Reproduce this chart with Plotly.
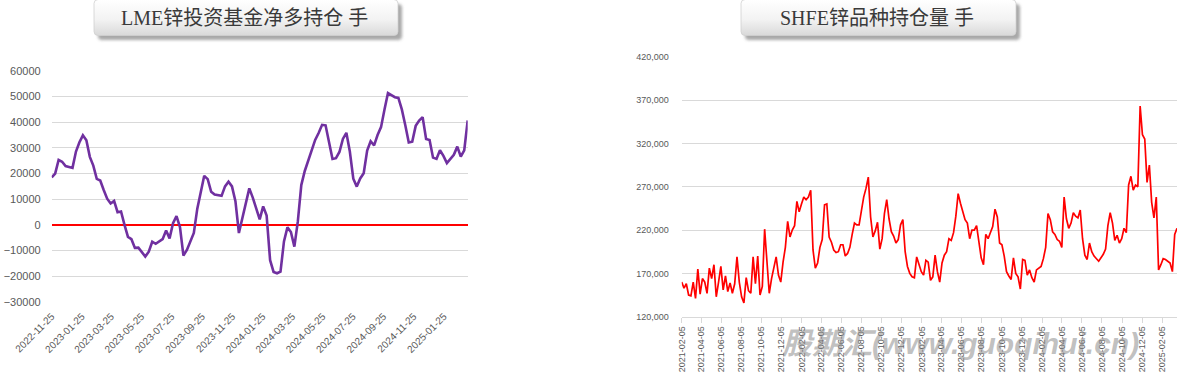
import base64
import pandas as pd
import plotly.graph_objects as go

W, H = 1179, 376

# ---------------- data: LME zinc investment fund net long (weekly) ----------------
lme_start = "2022-11-25"
lme_net_long = [
    18500, 20000, 25300, 24600, 22900, 22400, 22200, 28600, 32200, 34900,
    33000, 26500, 23100, 17900, 17300, 13600, 10200, 8300, 9300, 4900,
    5200, 0, -4700, -5600, -9000, -8900, -10800, -12400, -10500, -6600,
    -7400, -6500, -5600, -2200, -5300, 600, 3400, -900, -12000, -9800,
    -6800, -3200, 6300, 13500, 19100, 17800, 12900, 11800, 11600, 11300,
    15000, 16800, 15000, 9200, -3200, 2400, 8800, 14200, 10600, 6300,
    2100, 7200, 3600, -13800, -18400, -18900, -18300, -6500, -1000, -2800,
    -8500, 1300, 15500, 21000, 25200, 29700, 33100, 35800, 39000, 38800,
    32500, 25700, 26000, 28400, 33500, 35900, 28600, 18000, 14900, 18100,
    20100, 29000, 32600, 31000, 35000, 38100, 45000, 51400, 50600, 49800,
    49500, 45000, 38800, 32100, 32400, 38600, 40700, 42000, 33500, 33100,
    26200, 25700, 29100, 26900, 24100, 25600, 27300, 30500, 26600, 29000,
    40700,
]
lme_dates = pd.date_range(lme_start, periods=len(lme_net_long), freq="7D")

# ---------------- data: SHFE zinc open interest (weekly samples) ----------------
shfe_start = "2021-02-05"
shfe_oi_k = [
    160, 153, 158, 145, 144, 160, 141, 175, 146, 164,
    160, 147, 176, 164, 180, 143, 160, 178, 151, 167,
    149, 159, 147, 158, 189, 160, 143, 136, 165, 150,
    147, 189, 158, 190, 145, 155, 221, 185, 147, 164,
    176, 189, 168, 160, 183, 200, 230, 212, 220, 225,
    253, 241, 250, 258, 255, 258, 266, 197, 176, 182,
    200, 209, 249, 250, 212, 206, 197, 194, 195, 203,
    203, 190, 193, 200, 215, 228, 226, 226, 242, 258,
    268, 281, 235, 212, 219, 229, 198, 210, 239, 255,
    233, 218, 213, 205, 209, 226, 232, 195, 178, 170,
    166, 165, 189, 181, 172, 168, 185, 183, 162, 166,
    191, 172, 160, 182, 191, 195, 210, 208, 217, 236,
    262, 251, 240, 232, 228, 210, 220, 220, 225, 205,
    188, 180, 215, 210, 218, 224, 244, 235, 205, 203,
    190, 172, 167, 163, 188, 170, 166, 152, 186, 185,
    168, 174, 165, 160, 174, 176, 178, 187, 200, 239,
    232, 218, 215, 209, 207, 200, 258, 233, 222, 228,
    240, 236, 234, 243, 210, 191, 186, 205, 195, 190,
    187, 184, 188, 192, 198, 225, 240, 228, 208, 214,
    205, 210, 222, 217, 272, 282, 266, 272, 270, 363,
    330, 325, 275, 295, 252, 234, 258, 174, 180, 187,
    186, 184, 182, 172, 215, 222,
]
shfe_oi = [v * 1000 for v in shfe_oi_k]
shfe_dates = pd.date_range(shfe_start, periods=len(shfe_oi), freq="7D")

left_title = "LME锌投资基金净多持仓 手"
right_title = "SHFE锌品种持仓量 手"
watermark = "股期汇(www.guoqihui.cn)"

# ---------------- helpers ----------------
def px_x(p):
    return p / W

def px_y(p):
    return 1 - p / H

def box_svg(w, h):
    bw, bh = w - 8, h - 10
    svg = f'''<svg xmlns="http://www.w3.org/2000/svg" width="{w}" height="{h}" viewBox="0 0 {w} {h}">
<defs>
<linearGradient id="g" x1="0" y1="0" x2="0" y2="1">
<stop offset="0" stop-color="#ffffff"/>
<stop offset="0.55" stop-color="#f3f3f3"/>
<stop offset="1" stop-color="#d9d9d9"/>
</linearGradient>
<filter id="b" x="-10%" y="-30%" width="120%" height="160%"><feGaussianBlur stdDeviation="1.8"/></filter>
</defs>
<rect x="5" y="5" width="{bw}" height="{bh}" rx="4" fill="#8c8c8c" opacity="0.75" filter="url(#b)"/>
<rect x="1" y="0.5" width="{bw}" height="{bh}" rx="4" fill="url(#g)" stroke="#d0d0d0" stroke-width="0.8"/>
</svg>'''
    return "data:image/svg+xml;base64," + base64.b64encode(svg.encode()).decode()

# ---------------- figure ----------------
fig = go.Figure()

fig.add_trace(go.Scatter(
    x=lme_dates, y=lme_net_long, mode="lines",
    line=dict(color="#7030A0", width=2.6),
    xaxis="x", yaxis="y", showlegend=False, hoverinfo="x+y",
))
fig.add_trace(go.Scatter(
    x=shfe_dates, y=shfe_oi, mode="lines",
    line=dict(color="#FF0000", width=1.7),
    xaxis="x2", yaxis="y2", showlegend=False, hoverinfo="x+y",
))

grid = "#d9d9d9"
tickc = "#595959"

fig.update_layout(
    width=W, height=H,
    margin=dict(l=0, r=0, t=0, b=0, autoexpand=False),
    paper_bgcolor="white", plot_bgcolor="white",
    font=dict(family="Liberation Sans, Arial, sans-serif", color=tickc),
    xaxis=dict(
        domain=[px_x(51.7), px_x(467.7)],
        range=[lme_dates[0], lme_dates[-1]],
        type="date", tick0=lme_start, dtick="M2", tickformat="%Y-%m-%d",
        tickangle=-45, tickfont=dict(size=10, color=tickc),
        showgrid=False, zeroline=False, showline=False, ticks="",
        ticklabelstandoff=6, automargin=False,
        anchor="y",
    ),
    yaxis=dict(
        domain=[px_y(301.7), px_y(71)],
        range=[-30000, 60000], tick0=0, dtick=10000, tickformat="d",
        tickfont=dict(size=11, color=tickc),
        showgrid=True, gridcolor=grid, gridwidth=1,
        zeroline=True, zerolinecolor="#FF0000", zerolinewidth=2,
        showline=False, ticks="", ticklabelstandoff=10, automargin=False,
        anchor="x",
    ),
    xaxis2=dict(
        domain=[px_x(681.7), px_x(1177)],
        range=[shfe_dates[0], shfe_dates[-1]],
        type="date", tick0=shfe_start, dtick="M2", tickformat="%Y-%m-%d",
        tickangle=-90, tickfont=dict(size=9, color=tickc),
        showgrid=False, zeroline=False,
        showline=True, linecolor=grid, linewidth=1,
        ticks="outside", ticklen=5, tickcolor=grid, automargin=False,
        anchor="y2",
    ),
    yaxis2=dict(
        domain=[px_y(316.7), px_y(56.7)],
        range=[120000, 420000], tick0=120000, dtick=50000, tickformat=",d",
        tickfont=dict(size=9, color=tickc),
        showgrid=True, gridcolor=grid, gridwidth=1,
        zeroline=False, showline=False, ticks="", ticklabelstandoff=12,
        automargin=False,
        anchor="x2",
    ),
    images=[
        dict(source=box_svg(312, 46), xref="paper", yref="paper",
             x=px_x(93), y=px_y(-1), sizex=312 / W, sizey=46 / H,
             xanchor="left", yanchor="top", sizing="stretch", layer="below"),
        dict(source=box_svg(283, 46), xref="paper", yref="paper",
             x=px_x(740), y=px_y(-1), sizex=283 / W, sizey=46 / H,
             xanchor="left", yanchor="top", sizing="stretch", layer="below"),
    ],
    annotations=[
        dict(text=left_title, xref="paper", yref="paper",
             x=px_x(244), y=px_y(18), xanchor="center", yanchor="middle",
             showarrow=False,
             font=dict(family="Liberation Serif, Noto Sans CJK SC", size=20, color="#3a3a3a")),
        dict(text=right_title, xref="paper", yref="paper",
             x=px_x(877), y=px_y(18), xanchor="center", yanchor="middle",
             showarrow=False,
             font=dict(family="Liberation Serif, Noto Sans CJK SC", size=20, color="#3a3a3a")),
        dict(text=watermark, xref="paper", yref="paper",
             x=px_x(780), y=px_y(343), xanchor="left", yanchor="middle",
             showarrow=False,
             font=dict(family="Liberation Sans, Noto Sans CJK SC", size=30,
                       color="rgba(140,140,140,0.55)", weight="bold", style="italic")),
    ],
)

fig.write_html(
    "out.html",
    config={"displayModeBar": False},
    post_script="document.body.style.margin='0';document.body.style.padding='0';"
                "document.body.style.overflow='hidden';",
)
